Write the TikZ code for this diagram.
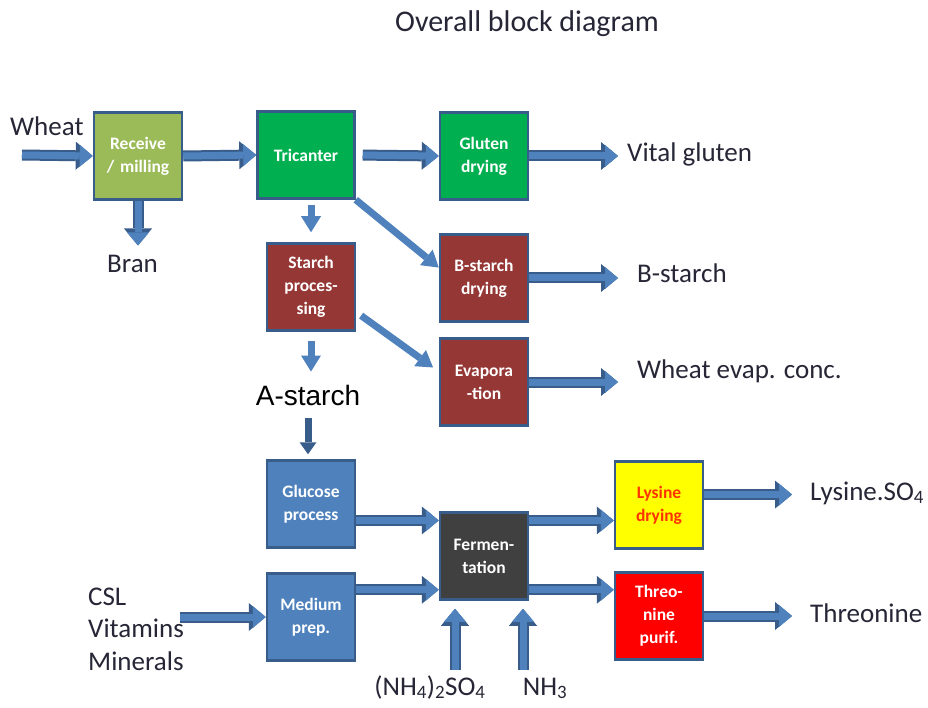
\documentclass[tikz,border=0pt]{standalone}
\usepackage{fontspec}
\setmainfont{Carlito}
\newfontfamily\arialfont{Liberation Sans}
\usetikzlibrary{positioning,calc,arrows.meta}
\definecolor{EdgeBlue}{HTML}{385D8A}
\definecolor{FlowBlue}{HTML}{4F81BD}
\definecolor{MillGreen}{HTML}{9BBB59}
\definecolor{BrightGreen}{HTML}{00B050}
\definecolor{BrickRed}{HTML}{953735}
\definecolor{ProcBlue}{HTML}{4F81BD}
\definecolor{FermGray}{HTML}{404040}
\definecolor{LysYellow}{HTML}{FFFF00}
\definecolor{LysText}{HTML}{FF3300}
\definecolor{ThrRed}{HTML}{FF0000}
\definecolor{LabelInk}{HTML}{262636}

\begin{document}
\begin{tikzpicture}[x=1pt, y=-1pt,
  every node/.style={font=\fontsize{27}{32}\selectfont, text=LabelInk, inner sep=0pt},
  block/.style={draw=EdgeBlue, line width=2.5pt, rectangle, minimum width=88pt, minimum height=87pt, inner sep=0pt, text width=84pt, align=center, text=white, font=\fontsize{17.5}{23}\selectfont\bfseries},
  bigflow/.style={line width=7pt, draw=FlowBlue, -{Triangle[width=22pt,length=13pt,line width=0pt]}, preaction={draw=EdgeBlue, line width=11pt, -{Triangle[width=28pt,length=17pt,line width=0pt]}}},
  flow/.style={line width=7pt, draw=FlowBlue, -{Triangle[width=20pt,length=16pt,line width=0pt]}},
  darkflow/.style={line width=7pt, draw=EdgeBlue, -{Triangle[width=17pt,length=12pt,line width=0pt]}}]
  \fill[white] (0,0) rectangle (928,708);
  \useasboundingbox (0,0) rectangle (928,708);

  % Title
  \node [anchor=base, font=\fontsize{30}{36}\selectfont] (title) at (527,32) {Overall block diagram};

  % Process blocks
  \node [block, fill=MillGreen] (recv) at (138,156) {Receive\\/ milling};
  \node [block, fill=BrightGreen, minimum width=97pt] (tric) at (306,155) {Tricanter};
  \node [block, fill=BrightGreen] (glut) at (484,156) {Gluten\\drying};
  \node [block, fill=BrickRed] (starch) at (311,287) {Starch\\proces-\\sing};
  \node [block, fill=BrickRed] (bstarch) at (484,278) {B-starch\\drying};
  \node [block, fill=BrickRed] (evap) at (484,382) {Evapora\\-tion};
  \node [block, fill=ProcBlue] (gluc) at (311,504) {Glucose\\process};
  \node [block, fill=ProcBlue] (medium) at (311,617) {Medium\\prep.};
  \node [block, fill=FermGray] (ferm) at (484,556) {Fermen-\\tation};
  \node [block, fill=LysYellow, text=LysText] (lys) at (659,505) {Lysine\\drying};
  \node [block, fill=ThrRed] (thr) at (659,616) {Threo-\\nine\\purif.};

  % Inputs and products
  \node [anchor=base west] (wheat) at (10,136) {Wheat};
  \node [anchor=base west] (bran) at (107,273) {Bran};
  \node [anchor=base west] (vital) at (627,162) {Vital gluten};
  \node [anchor=base west] (bout) at (637,283) {B-starch};
  \node [anchor=base west] (evout) at (637,378) {Wheat evap. conc.};
  \node [anchor=base, font=\arialfont\fontsize{28}{32}\selectfont, text=black] (astarch) at (308,405) {A-starch};
  \node [anchor=base west] (lysout) at (810,500) {Lysine.SO\textsubscript{4}};
  \node [anchor=base west] (throut) at (810,622) {Threonine};
  \node [anchor=base west] (csl) at (88,605) {CSL};
  \node [anchor=base west] (vitam) at (88,637) {Vitamins};
  \node [anchor=base west] (miner) at (88,670) {Minerals};
  \node [anchor=base] (ammsulf) at (430,695) {(NH\textsubscript{4})\textsubscript{2}SO\textsubscript{4}};
  \node [anchor=base] (ammonia) at (545,695) {NH\textsubscript{3}};
  \coordinate (wheatin) at (22,155);
  \coordinate (cslin) at (180,617);
  \coordinate (sulfin) at (455,670);
  \coordinate (nh3in) at (523,670);

  % Paths
  \draw [bigflow] (wheatin) -- (recv.west);
  \draw [bigflow] (recv.east) -- (tric.west);
  \draw [bigflow, shorten >=10pt] (recv.south) -- (recv.south |- bran.north);
  \draw [bigflow, shorten <=7pt] (tric.east) -- (glut.west);
  \draw [bigflow, shorten >=9pt] (glut.east) -- (glut.east -| vital.west);
  \draw [flow, shorten <=5pt, shorten >=10pt] (tric.south -| starch.north) -- (starch.north);
  \draw [flow] (tric.south east) -- (bstarch.167);
  \draw [bigflow, shorten >=9pt] (bstarch.east) -- (bstarch.east -| vital.west);
  \draw [flow, shorten <=9pt, shorten >=13pt] (starch.south) -- (starch.south |- astarch.north);
  \draw [flow, shorten <=6pt, shorten >=7pt] (starch.-29) -- (evap.167);
  \draw [bigflow, shorten >=9pt] (evap.east) -- (evap.east -| vital.west);
  \draw [darkflow, shorten <=13pt, shorten >=5pt] (astarch.south) -- (astarch.south |- gluc.north);
  \draw [bigflow] (gluc.-20) -- (ferm.west |- gluc.-20);
  \draw [bigflow] (medium.31) -- (ferm.west |- medium.31);
  \draw [bigflow] (ferm.east |- gluc.-20) -- (lys.west |- gluc.-20);
  \draw [bigflow] (ferm.east |- medium.31) -- (thr.west |- medium.31);
  \draw [bigflow, shorten >=18pt] (lys.13) -- (lys.13 -| lysout.west);
  \draw [bigflow, shorten >=18pt] (thr.east) -- (thr.east -| throut.west);
  \draw [bigflow] (cslin) -- (medium.west);
  \draw [bigflow, shorten >=8pt] (sulfin) -- (sulfin |- ferm.south);
  \draw [bigflow, shorten >=8pt] (nh3in) -- (nh3in |- ferm.south);
\end{tikzpicture}
\end{document}
